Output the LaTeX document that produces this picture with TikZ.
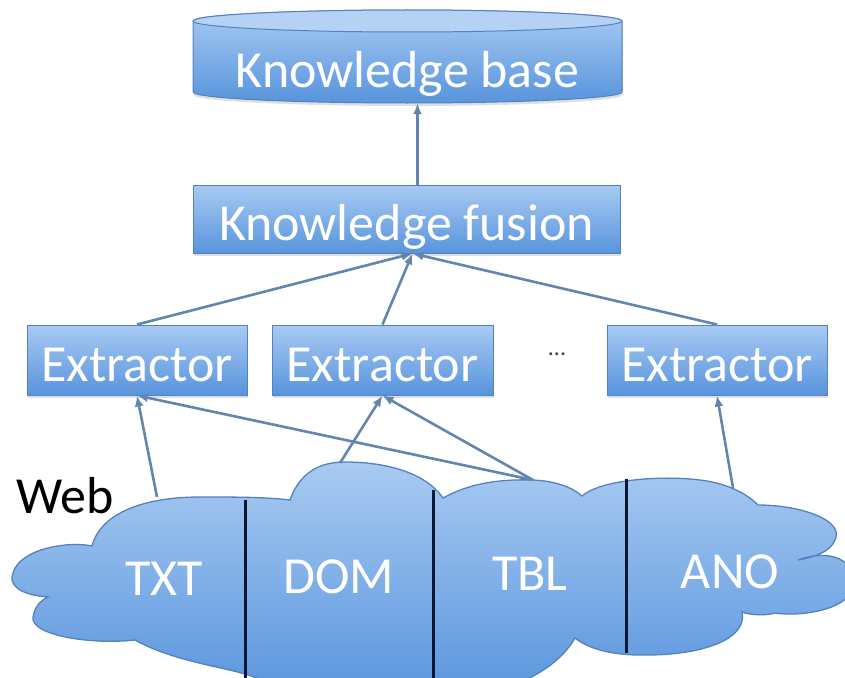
\documentclass[tikz,border=0pt]{standalone}
\usepackage{fontspec}
\setmainfont{Carlito}
\usepackage{xcolor}
\usetikzlibrary{arrows.meta,shadows}
\definecolor{boxtop}{RGB}{168,202,242}
\definecolor{boxbot}{RGB}{88,148,221}
\definecolor{boxline}{RGB}{84,130,190}
\definecolor{linkcol}{RGB}{98,134,176}
\definecolor{sepcol}{RGB}{10,22,50}

\begin{document}
\begin{tikzpicture}[x=1pt, y=-1pt,
  box/.style={rectangle, draw=boxline, line width=1pt, top color=boxtop, bottom color=boxbot, text=white, font=\fontsize{52}{60}\selectfont, inner sep=0pt, text height=42pt, text depth=0pt, drop shadow={shadow xshift=1pt, shadow yshift=-3pt, opacity=0.25}},
  lbl/.style={text=white, font=\fontsize{52}{60}\selectfont, inner sep=0pt},
  cloud/.style={draw=boxline, line width=1.3pt, top color=boxtop, bottom color=boxbot},
  link/.style={draw=linkcol, line width=2.6pt, -{Latex[length=11pt,width=9pt]}},
  sep/.style={draw=sepcol, line width=3pt}]
  \useasboundingbox (0,0) rectangle (845,677);

  \shade[box] (193,21) -- (193,92) arc[start angle=180, end angle=360, x radius=214.5pt, y radius=11pt] -- (622,21) arc[start angle=0, end angle=180, x radius=214.5pt, y radius=11pt] -- cycle;
  \draw[draw=boxline, line width=1pt, fill=boxtop!85!white] (407.5,21) ellipse [x radius=214.5pt, y radius=11pt];
  \node[lbl, text height=42pt, text depth=0pt, minimum width=429pt, minimum height=74pt] (kb) at (407.5,66) {Knowledge base};

  \node[box, minimum width=427pt, minimum height=68pt] (kf) at (406.5,219) {Knowledge fusion};
  \node[box, minimum width=220pt, minimum height=70pt] (ex1) at (137,360) {Extractor};
  \node[box, minimum width=221pt, minimum height=70pt] (ex2) at (382.5,360) {Extractor};
  \node[box, minimum width=220pt, minimum height=70pt] (ex3) at (717,360) {Extractor};
  \node[font=\fontsize{24}{28}\selectfont, text=black!75] (dots) at (557,354) {...};

  \begin{scope}
    \clip (0,0) rectangle (845,677);
    \shade[cloud] (13,573) .. controls (20,548) and (70,541) .. (92,546)
      .. controls (100,515) and (140,497) .. (200,497)
      .. controls (235,497) and (265,497) .. (290,500)
      .. controls (300,472) and (320,462) .. (345,462)
      .. controls (385,462) and (425,472) .. (443,498)
      .. controls (470,483) and (500,479) .. (533,480)
      .. controls (555,481) and (572,487) .. (582,496)
      .. controls (600,480) and (660,475) .. (700,480)
      .. controls (725,483) and (745,492) .. (758,505)
      .. controls (800,505) and (845,520) .. (835,540)
      .. controls (830,552) and (815,557) .. (798,560)
      .. controls (830,548) and (860,560) .. (852,590)
      .. controls (845,610) and (800,617) .. (775,613)
      .. controls (765,616) and (750,615) .. (742,612)
      .. controls (748,640) and (700,656) .. (640,655)
      .. controls (615,655) and (590,650) .. (575,638)
      .. controls (560,665) and (520,690) .. (470,695)
      .. controls (400,700) and (300,700) .. (260,680)
      .. controls (240,668) and (180,665) .. (135,640)
      .. controls (90,645) and (30,635) .. (33,617)
      .. controls (35,605) and (42,600) .. (48,597)
      .. controls (20,595) and (8,585) .. (13,573) -- cycle;
    \draw[sep] (245,500) -- (245,680);
    \draw[sep] (433,490) -- (433,680);
    \draw[sep] (626,479) -- (626,653);
  \end{scope}

  \node[font=\fontsize{52}{60}\selectfont, inner sep=0pt, anchor=base] (web) at (65,513) {Web};
  \node[lbl, anchor=base] (txt) at (164,595) {TXT};
  \node[lbl, anchor=base] (dom) at (339,593) {DOM};
  \node[lbl, anchor=base] (tbl) at (530,590) {TBL};
  \node[lbl, anchor=base] (ano) at (730,588) {ANO};

  \coordinate (txtin) at (157,497);
  \coordinate (domin) at (340,463);
  \coordinate (tblin) at (533,480);
  \coordinate (anoin) at (733,488);

  \draw[link] ([xshift=11pt]kf.north) -- ([xshift=10pt]kb.south);
  \draw[link] (ex1.north) -- ([xshift=6pt]kf.south);
  \draw[link] (ex2.north) -- ([xshift=6pt]kf.south);
  \draw[link] (ex3.north) -- ([xshift=6pt]kf.south);
  \draw[link] (txtin) -- (ex1.south);
  \draw[link] (domin) -- (ex2.south);
  \draw[link] (tblin) -- (ex1.south);
  \draw[link] (tblin) -- (ex2.south);
  \draw[link] (anoin) -- (ex3.south);
\end{tikzpicture}
\end{document}
